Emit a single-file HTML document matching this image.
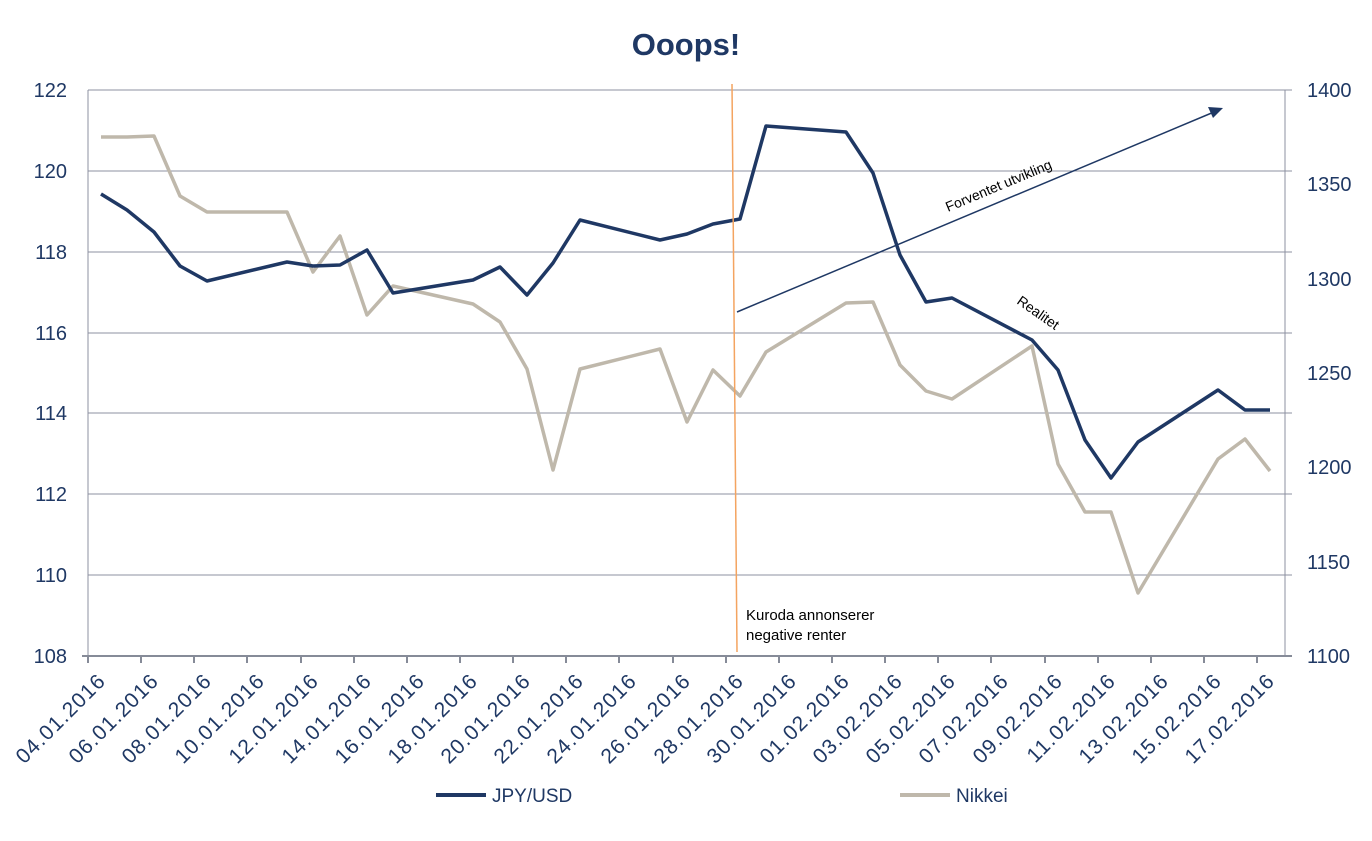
<!DOCTYPE html>
<html><head><meta charset="utf-8"><style>body{margin:0;background:#fff}svg{display:block;font-family:"Liberation Sans",sans-serif}</style></head><body>
<svg width="1372" height="841" viewBox="0 0 1372 841" xmlns="http://www.w3.org/2000/svg">
<text x="686" y="55" text-anchor="middle" font-size="31" font-weight="bold" fill="#1f3864">Ooops!</text>
<g stroke="#8c90a0" stroke-width="1">
<line x1="88" y1="90" x2="1292" y2="90"/><line x1="88" y1="171" x2="1292" y2="171"/><line x1="88" y1="252" x2="1292" y2="252"/><line x1="88" y1="333" x2="1292" y2="333"/><line x1="88" y1="413" x2="1292" y2="413"/><line x1="88" y1="494" x2="1292" y2="494"/><line x1="88" y1="575" x2="1292" y2="575"/>
<line x1="88" y1="90" x2="88" y2="656"/><line x1="1285" y1="90" x2="1285" y2="656"/>
</g>
<g stroke="#868b98" stroke-width="2">
<line x1="82" y1="656" x2="1292" y2="656"/>
<line x1="88" y1="656" x2="88" y2="663"/><line x1="141" y1="656" x2="141" y2="663"/><line x1="194" y1="656" x2="194" y2="663"/><line x1="247" y1="656" x2="247" y2="663"/><line x1="301" y1="656" x2="301" y2="663"/><line x1="354" y1="656" x2="354" y2="663"/><line x1="407" y1="656" x2="407" y2="663"/><line x1="460" y1="656" x2="460" y2="663"/><line x1="513" y1="656" x2="513" y2="663"/><line x1="566" y1="656" x2="566" y2="663"/><line x1="619" y1="656" x2="619" y2="663"/><line x1="673" y1="656" x2="673" y2="663"/><line x1="726" y1="656" x2="726" y2="663"/><line x1="779" y1="656" x2="779" y2="663"/><line x1="832" y1="656" x2="832" y2="663"/><line x1="885" y1="656" x2="885" y2="663"/><line x1="938" y1="656" x2="938" y2="663"/><line x1="991" y1="656" x2="991" y2="663"/><line x1="1045" y1="656" x2="1045" y2="663"/><line x1="1098" y1="656" x2="1098" y2="663"/><line x1="1151" y1="656" x2="1151" y2="663"/><line x1="1204" y1="656" x2="1204" y2="663"/><line x1="1257" y1="656" x2="1257" y2="663"/>
</g>
<g font-size="20" fill="#1f3864" text-anchor="end">
<text x="67" y="97">122</text><text x="67" y="178">120</text><text x="67" y="259">118</text><text x="67" y="340">116</text><text x="67" y="420">114</text><text x="67" y="501">112</text><text x="67" y="582">110</text><text x="67" y="663">108</text>
</g>
<g font-size="20" fill="#1f3864">
<text x="1307" y="97">1400</text><text x="1307" y="191">1350</text><text x="1307" y="286">1300</text><text x="1307" y="380">1250</text><text x="1307" y="474">1200</text><text x="1307" y="569">1150</text><text x="1307" y="663">1100</text>
</g>
<g font-size="21" letter-spacing="1.2" fill="#1f3864" text-anchor="end">
<text transform="translate(107,682) rotate(-45)">04.01.2016</text>
<text transform="translate(160,682) rotate(-45)">06.01.2016</text>
<text transform="translate(213,682) rotate(-45)">08.01.2016</text>
<text transform="translate(266,682) rotate(-45)">10.01.2016</text>
<text transform="translate(320,682) rotate(-45)">12.01.2016</text>
<text transform="translate(373,682) rotate(-45)">14.01.2016</text>
<text transform="translate(426,682) rotate(-45)">16.01.2016</text>
<text transform="translate(479,682) rotate(-45)">18.01.2016</text>
<text transform="translate(532,682) rotate(-45)">20.01.2016</text>
<text transform="translate(585,682) rotate(-45)">22.01.2016</text>
<text transform="translate(638,682) rotate(-45)">24.01.2016</text>
<text transform="translate(692,682) rotate(-45)">26.01.2016</text>
<text transform="translate(745,682) rotate(-45)">28.01.2016</text>
<text transform="translate(798,682) rotate(-45)">30.01.2016</text>
<text transform="translate(851,682) rotate(-45)">01.02.2016</text>
<text transform="translate(904,682) rotate(-45)">03.02.2016</text>
<text transform="translate(957,682) rotate(-45)">05.02.2016</text>
<text transform="translate(1010,682) rotate(-45)">07.02.2016</text>
<text transform="translate(1064,682) rotate(-45)">09.02.2016</text>
<text transform="translate(1117,682) rotate(-45)">11.02.2016</text>
<text transform="translate(1170,682) rotate(-45)">13.02.2016</text>
<text transform="translate(1223,682) rotate(-45)">15.02.2016</text>
<text transform="translate(1276,682) rotate(-45)">17.02.2016</text>
</g>
<polyline fill="none" stroke="#bfb8ab" stroke-width="3.5" stroke-linejoin="round" points="101,137 127,137 154,136 180,196 207,212 287,212 313,272 340,236 367,315 393,286 473,304 500,322 527,369 553,470 580,369 660,349 687,422 713,370 740,396 766,352 846,303 873,302 900,365 926,391 952,399 1032,346 1058,464 1085,512 1111,512 1138,593 1218,459 1245,439 1270,471"/>
<polyline fill="none" stroke="#1f3864" stroke-width="3.5" stroke-linejoin="round" points="101,194 127,210 154,232 180,266 207,281 287,262 313,266 340,265 367,250 393,293 473,280 500,267 527,295 553,263 580,220 660,240 687,234 713,224 740,219 766,126 846,132 873,173 900,255 926,302 952,298 1032,340 1058,370 1085,440 1111,478 1138,442 1218,390 1245,410 1270,410"/>
<line x1="732" y1="84" x2="737" y2="652" stroke="#f4a460" stroke-width="1.5"/>
<line x1="737" y1="312" x2="1214" y2="112" stroke="#1f3864" stroke-width="1.5"/>
<polygon points="1223,108 1208,107 1213,118" fill="#1f3864"/>
<text font-size="14" transform="translate(948,212) rotate(-22.7)">Forventet utvikling</text>
<text font-size="14" transform="translate(1016,303) rotate(35)">Realitet</text>
<text x="746" y="620" font-size="15">Kuroda annonserer</text>
<text x="746" y="640" font-size="15">negative renter</text>
<line x1="436" y1="795" x2="486" y2="795" stroke="#1f3864" stroke-width="4"/>
<text x="492" y="802" font-size="19" fill="#1f3864">JPY/USD</text>
<line x1="900" y1="795" x2="950" y2="795" stroke="#bfb8ab" stroke-width="4"/>
<text x="956" y="802" font-size="19" fill="#1f3864">Nikkei</text>
</svg>
</body></html>
